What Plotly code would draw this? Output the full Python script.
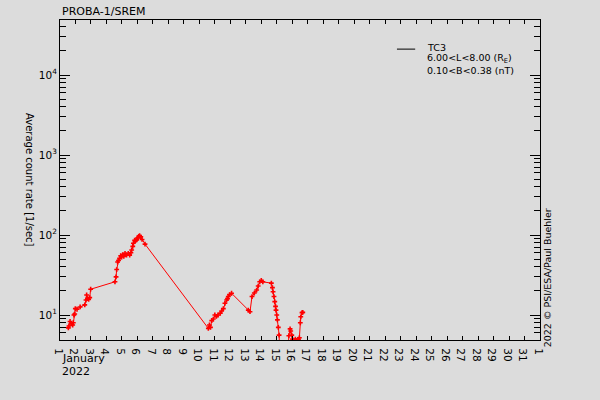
import plotly.graph_objects as go

# day of January 2022 (fractional) and average count rate [1/sec]
days = [1.54, 1.58, 1.65, 1.72, 1.82, 1.86, 1.90, 1.95, 1.99, 2.10, 2.30, 2.60, 2.68, 2.72,
        2.78, 2.85, 2.92, 2.98,
        4.55, 4.62, 4.66, 4.72, 4.78, 4.85, 4.92, 4.98, 5.05, 5.12, 5.20, 5.30, 5.41, 5.50,
        5.58, 5.63, 5.70, 5.74, 5.82, 5.88, 5.95, 6.02, 6.08, 6.14, 6.22, 6.30, 6.49,
        10.58, 10.65, 10.72, 10.80, 10.90, 11.00, 11.10, 11.20, 11.35, 11.44, 11.55, 11.65,
        11.76, 11.82, 11.87, 11.95, 12.08,
        13.16, 13.27, 13.40, 13.55, 13.70, 13.80, 13.90, 14.00, 14.10, 14.65, 14.72, 14.76,
        14.82, 14.87, 14.92, 14.95, 15.00, 15.04, 15.10, 15.15, 15.20,
        15.70, 15.78, 15.86, 15.90, 15.97, 16.02, 16.20, 16.40, 16.46, 16.52, 16.55, 16.63, 16.68]
rates = [6.9, 7.3, 8.3, 7.8, 7.5, 8.0, 10.0, 10.3, 12.0, 11.8, 12.6, 13.4, 15.4, 17.8,
         16.0, 15.7, 16.5, 21.0,
         26, 30, 37, 46, 48, 51, 55, 53, 57, 54, 59, 56, 59, 56,
         60, 65, 72, 79, 86, 85, 87, 92, 96, 98, 95, 88, 77,
         6.8, 7.5, 7.0, 8.5, 8.9, 10.0, 9.6, 10.0, 10.5, 11.2, 12.0, 14.0,
         15.4, 16.0, 17.0, 18.0, 18.7,
         11.5, 11.0, 17.0, 18.8, 20.5, 23.0, 26.0, 27.0, 26.0, 25.0, 22.0, 19.5,
         17.0, 14.7, 12.8, 11.5, 10.0, 8.7, 7.0, 5.6, 3.0,
         3.0, 5.5, 6.7, 6.3, 5.6, 5.0, 5.0, 5.0, 5.2, 8.0, 9.5, 10.7, 10.8]

day_ticks = list(range(1, 33))
day_labels = [str(d) for d in range(1, 32)] + ["1"]
y_ticks = [10, 100, 1000, 10000]
y_labels = ["10<sup>1</sup>", "10<sup>2</sup>", "10<sup>3</sup>", "10<sup>4</sup>"]
minor_vals = [m * 10 ** e for e in range(0, 5) for m in range(2, 10)]

BG = "#dcdcdc"
FONT = "DejaVu Sans"

fig = go.Figure()
fig.add_trace(go.Scatter(
    x=days, y=rates, mode="lines+markers",
    line=dict(color="red", width=1),
    marker=dict(symbol="cross", size=4, color="red", line=dict(width=0)),
    showlegend=False,
))

fig.update_layout(
    width=600, height=400,
    margin=dict(l=60, r=60, t=20, b=60),
    paper_bgcolor=BG, plot_bgcolor=BG,
    font=dict(family=FONT, size=11, color="black"),
    xaxis=dict(
        range=[1, 32], tickmode="array", tickvals=day_ticks, ticktext=day_labels,
        ticks="inside", ticklen=4, tickcolor="black", showline=True, linecolor="black",
        linewidth=1, mirror="ticks", showgrid=False, zeroline=False,
        tickfont=dict(size=10.5),
    ),
    yaxis=dict(
        type="log", range=[0.6875, 4.6875], tickmode="array", tickvals=y_ticks,
        ticktext=y_labels, ticks="inside", ticklen=10, tickcolor="black",
        showline=True, linecolor="black", linewidth=1, mirror="ticks",
        showgrid=False, zeroline=False, tickfont=dict(size=10.5),
        minor=dict(tickmode="array", tickvals=minor_vals, ticks="inside", ticklen=6,
                   tickcolor="black", showgrid=False),
    ),
)

# titles and side texts
fig.add_annotation(text="PROBA-1/SREM", xref="paper", yref="paper", x=0, y=1.028,
                   xanchor="left", yanchor="middle", showarrow=False, font=dict(size=11))
fig.add_annotation(text="Average count rate [1/sec]", xref="paper", yref="paper",
                   x=-0.0625, y=0.5, textangle=90, xanchor="center", yanchor="middle",
                   showarrow=False, font=dict(size=10))
fig.add_annotation(text="2022 © PSI/ESA/Paul Buehler", xref="paper", yref="paper",
                   x=1.016, y=0.195, textangle=-90, xanchor="center", yanchor="middle",
                   showarrow=False, font=dict(size=9.5))
fig.add_annotation(text="January", xref="paper", yref="paper", x=0, y=-0.059,
                   xanchor="left", yanchor="middle", showarrow=False, font=dict(size=11))
fig.add_annotation(text="2022", xref="paper", yref="paper", x=0, y=-0.097,
                   xanchor="left", yanchor="middle", showarrow=False, font=dict(size=11))

# legend block
fig.add_shape(type="line", xref="paper", yref="paper", x0=0.702, x1=0.740,
              y0=0.909, y1=0.909, line=dict(color="black", width=1))
legend_lines = ["TC3", "6.00&lt;L&lt;8.00 (R<sub>E</sub>)", "0.10&lt;B&lt;0.38 (nT)"]
for i, txt in enumerate(legend_lines):
    fig.add_annotation(text=txt, xref="paper", yref="paper", x=0.760, y=0.915 - i * 0.036,
                       xanchor="left", yanchor="middle", showarrow=False,
                       font=dict(size=9.5))

# drop the default page margin so the figure sits at the window's corner
fig.write_html("out.html", config={"displayModeBar": False},
               post_script="document.body.style.margin='0';")
